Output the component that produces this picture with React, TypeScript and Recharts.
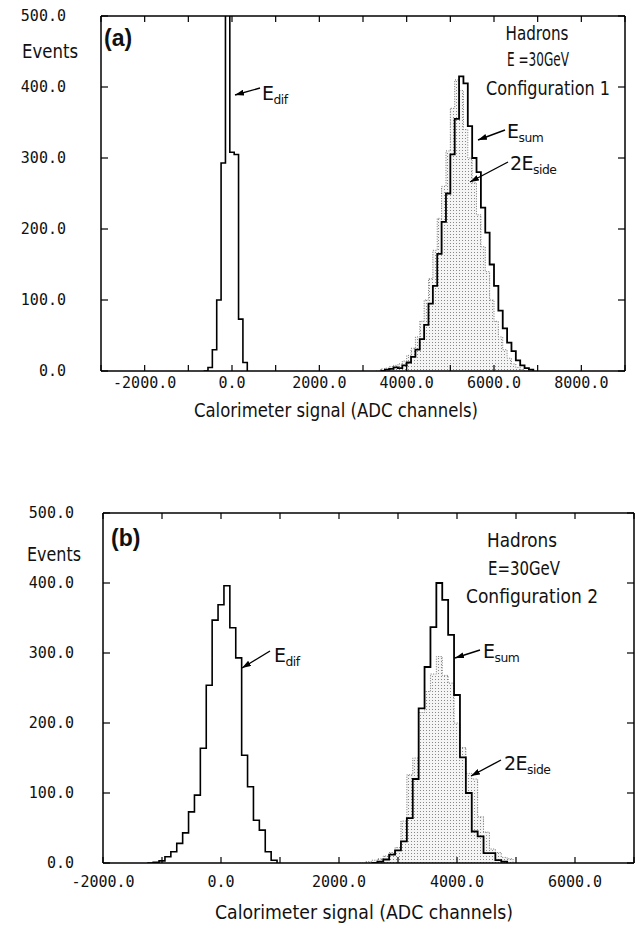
import React from "react";
import { Area, ComposedChart, Line, XAxis, YAxis } from "recharts";

// histogram bin width (ADC channels)
const BIN = 100;

const yTicks = [0, 100, 200, 300, 400, 500];

// panel (a) - configuration 1
const aXTicks = [-3000, -2000, -1000, 0, 1000, 2000, 3000, 4000, 5000, 6000, 7000, 8000, 9000];
const aXLabels = [-2000, 0, 2000, 4000, 6000, 8000];
const aDifStart = -650;
const aDifCounts = [0, 5, 30, 100, 293, 1200, 308, 305, 73, 12, 0];
const aSumStart = 3400;
const aSumCounts = [
  0, 2, 3, 5, 4, 8, 12, 20, 30, 45, 65, 95, 120, 165, 210, 250, 305, 355, 415, 405,
  345, 300, 280, 230, 195, 150, 120, 85, 60, 40, 28, 15, 8, 4, 2, 0,
];
const aSideStart = 3300;
const aSideCounts = [
  0, 3, 4, 6, 8, 10, 14, 22, 32, 48, 70, 100, 130, 170, 215, 260, 310, 370, 410, 395,
  340, 300, 265, 220, 175, 140, 100, 70, 48, 30, 18, 10, 5, 2, 0,
];

// panel (b) - configuration 2
const bXTicks = [-2000, -1000, 0, 1000, 2000, 3000, 4000, 5000, 6000, 7000];
const bXLabels = [-2000, 0, 2000, 4000, 6000];
const bDifStart = -1250;
const bDifCounts = [
  0, 1, 3, 9, 16, 28, 43, 73, 97, 164, 254, 347, 369, 396, 336, 293, 154, 109, 61, 47, 16, 4, 0,
];
const bSumStart = 2550;
const bSumCounts = [
  0, 2, 5, 12, 18, 31, 64, 120, 221, 280, 337, 400, 376, 326, 240, 151, 100, 45, 38, 14, 14, 4, 2, 0,
];
const bSideStart = 2350;
const bSideCounts = [
  0, 2, 4, 6, 10, 15, 22, 60, 126, 150, 215, 245, 270, 295, 268, 257, 200, 165, 128, 120,
  66, 44, 20, 15, 8, 6, 0,
];

const MONO = "'DejaVu Sans Mono', monospace";
const SANS = "'DejaVu Sans', 'Noto Sans', sans-serif";

const toBins = (start: number, counts: number[]) =>
  counts.map((y, i) => ({ x: start + i * BIN, y }));

const axisLine = { stroke: "#000", strokeWidth: 1.5 };

function Panel(props: any) {
  const { height, margin, xDomain, xTicks, xLabels, labelDy, yGap, dif, sum, side, pid } = props;

  const bottomTick = (p: any) => (
    <g>
      <line x1={p.x} y1={p.y} x2={p.x} y2={p.y - 6} stroke="#000" strokeWidth={1.2} />
      {xLabels.includes(p.payload.value) && (
        <text x={p.x} y={p.y + labelDy} textAnchor="middle" fontFamily={MONO} fontSize={15} fill="#111">
          {p.payload.value.toFixed(1)}
        </text>
      )}
    </g>
  );
  const topTick = (p: any) => (
    <line x1={p.x} y1={p.y} x2={p.x} y2={p.y + 6} stroke="#000" strokeWidth={1.2} />
  );
  const leftTick = (p: any) => (
    <g>
      <line x1={p.x} y1={p.y} x2={p.x + 7} y2={p.y} stroke="#000" strokeWidth={1.2} />
      <text x={p.x - yGap} y={p.y + 5} textAnchor="end" fontFamily={MONO} fontSize={15} fill="#111">
        {p.payload.value.toFixed(1)}
      </text>
    </g>
  );
  const rightTick = (p: any) => (
    <line x1={p.x} y1={p.y} x2={p.x - 7} y2={p.y} stroke="#000" strokeWidth={1.2} />
  );

  const common = {
    type: "number" as const,
    interval: 0,
    allowDataOverflow: true,
    tickSize: 0,
    tickMargin: 0,
    tickLine: false,
    axisLine,
  };

  return (
    <ComposedChart width={641} height={height} margin={margin}>
      <defs>
        <pattern id={pid} width="3" height="3" patternUnits="userSpaceOnUse">
          <rect x="0" y="0" width="3" height="3" fill="#f5f5f5" />
          <rect x="0" y="0" width="1" height="1" fill="#888" />
        </pattern>
      </defs>
      <XAxis xAxisId="b" dataKey="x" domain={xDomain} ticks={xTicks} height={1} tick={bottomTick} {...common} />
      <XAxis xAxisId="t" orientation="top" dataKey="x" domain={xDomain} ticks={xTicks} height={1} tick={topTick} {...common} />
      <YAxis yAxisId="l" domain={[0, 500]} ticks={yTicks} width={1} tick={leftTick} {...common} />
      <YAxis yAxisId="r" orientation="right" domain={[0, 500]} ticks={yTicks} width={1} tick={rightTick} {...common} />
      <Area
        xAxisId="b"
        yAxisId="l"
        data={side}
        dataKey="y"
        type="stepAfter"
        fill={`url(#${pid})`}
        fillOpacity={1}
        stroke="#777"
        strokeWidth={1}
        strokeDasharray="1 1.5"
        isAnimationActive={false}
      />
      <Line
        xAxisId="b"
        yAxisId="l"
        data={dif}
        dataKey="y"
        type="stepAfter"
        stroke="#000"
        strokeWidth={1.6}
        dot={false}
        isAnimationActive={false}
      />
      <Line
        xAxisId="b"
        yAxisId="l"
        data={sum}
        dataKey="y"
        type="stepAfter"
        stroke="#000"
        strokeWidth={1.8}
        dot={false}
        isAnimationActive={false}
      />
    </ComposedChart>
  );
}

function Arrow({ x1, y1, x2, y2 }: any) {
  return <line x1={x1} y1={y1} x2={x2} y2={y2} stroke="#000" strokeWidth={1.4} markerEnd="url(#ah)" />;
}

// narrow label: compresses the installed sans font to the plotter-style width
function NText({ x, y, w, children, anchor = "middle", size = 20 }: any) {
  return (
    <text
      x={x}
      y={y}
      textAnchor={anchor}
      textLength={w}
      lengthAdjust="spacingAndGlyphs"
      fontFamily={SANS}
      fontSize={size}
      fill="#111"
    >
      {children}
    </text>
  );
}

// symbol with subscript, in one text element
function Sub({ x, y, big, sub, size = 19 }: any) {
  return (
    <text x={x} y={y} fontFamily={SANS} fontSize={size} fill="#111" letterSpacing={-0.5}>
      {big}
      <tspan fontSize={size * 0.65} dy={4}>
        {sub}
      </tspan>
    </text>
  );
}

export default function App() {
  return (
    <div style={{ position: "absolute", left: 0, top: 0, width: 641, height: 932, background: "#fff" }}>
      <div style={{ position: "absolute", left: 0, top: 0 }}>
        <Panel
          height={440}
          margin={{ top: 15, left: 100, right: 15, bottom: 68 }}
          xDomain={[-3000, 9000]}
          xTicks={aXTicks}
          xLabels={aXLabels}
          labelDy={17}
          yGap={35}
          dif={toBins(aDifStart, aDifCounts)}
          sum={toBins(aSumStart, aSumCounts)}
          side={toBins(aSideStart, aSideCounts)}
          pid="dotsA"
        />
      </div>
      <div style={{ position: "absolute", left: 0, top: 460 }}>
        <Panel
          height={472}
          margin={{ top: 52, left: 102, right: 6, bottom: 68 }}
          xDomain={[-2000, 7000]}
          xTicks={bXTicks}
          xLabels={bXLabels}
          labelDy={24}
          yGap={29}
          dif={toBins(bDifStart, bDifCounts)}
          sum={toBins(bSumStart, bSumCounts)}
          side={toBins(bSideStart, bSideCounts)}
          pid="dotsB"
        />
      </div>
      <svg
        width={641}
        height={932}
        style={{ position: "absolute", left: 0, top: 0, pointerEvents: "none" }}
      >
        <defs>
          <marker id="ah" markerWidth="9" markerHeight="6" refX="9" refY="3" orient="auto" markerUnits="userSpaceOnUse">
            <path d="M0,0 L9,3 L0,6 z" fill="#000" />
          </marker>
        </defs>

        {/* panel (a) */}
        <text x={104} y={46} fontFamily="'Liberation Sans', Arial, sans-serif" fontWeight="bold" fontSize={23} fill="#111">(a)</text>
        <NText x={50} y={58} w={56}>Events</NText>
        <NText x={537} y={40} w={63}>Hadrons</NText>
        <NText x={538} y={66} w={62}>E =30GeV</NText>
        <NText x={548} y={95} w={124}>Configuration 1</NText>
        <Sub x={262} y={100} big="E" sub="dif" />
        <Arrow x1={260} y1={88} x2={235} y2={95} />
        <Sub x={507} y={138} big="E" sub="sum" />
        <Arrow x1={505} y1={130} x2={478} y2={140} />
        <Sub x={510} y={170} big="2E" sub="side" />
        <Arrow x1={508} y1={162} x2={470} y2={182} />
        <NText x={336} y={417} w={284}>Calorimeter signal (ADC channels)</NText>

        {/* panel (b) */}
        <text x={111} y={546} fontFamily="'Liberation Sans', Arial, sans-serif" fontWeight="bold" fontSize={23} fill="#111">(b)</text>
        <NText x={54} y={561} w={54}>Events</NText>
        <NText x={522} y={547} w={70}>Hadrons</NText>
        <NText x={524} y={575} w={72}>E=30GeV</NText>
        <NText x={532} y={603} w={132}>Configuration 2</NText>
        <Sub x={274} y={662} big="E" sub="dif" />
        <Arrow x1={270} y1={651} x2={242} y2={668} />
        <Sub x={483} y={658} big="E" sub="sum" />
        <Arrow x1={480} y1={650} x2={455} y2={658} />
        <Sub x={504} y={770} big="2E" sub="side" />
        <Arrow x1={501} y1={760} x2={471} y2={776} />
        <NText x={364} y={919} w={298}>Calorimeter signal (ADC channels)</NText>
      </svg>
    </div>
  );
}
